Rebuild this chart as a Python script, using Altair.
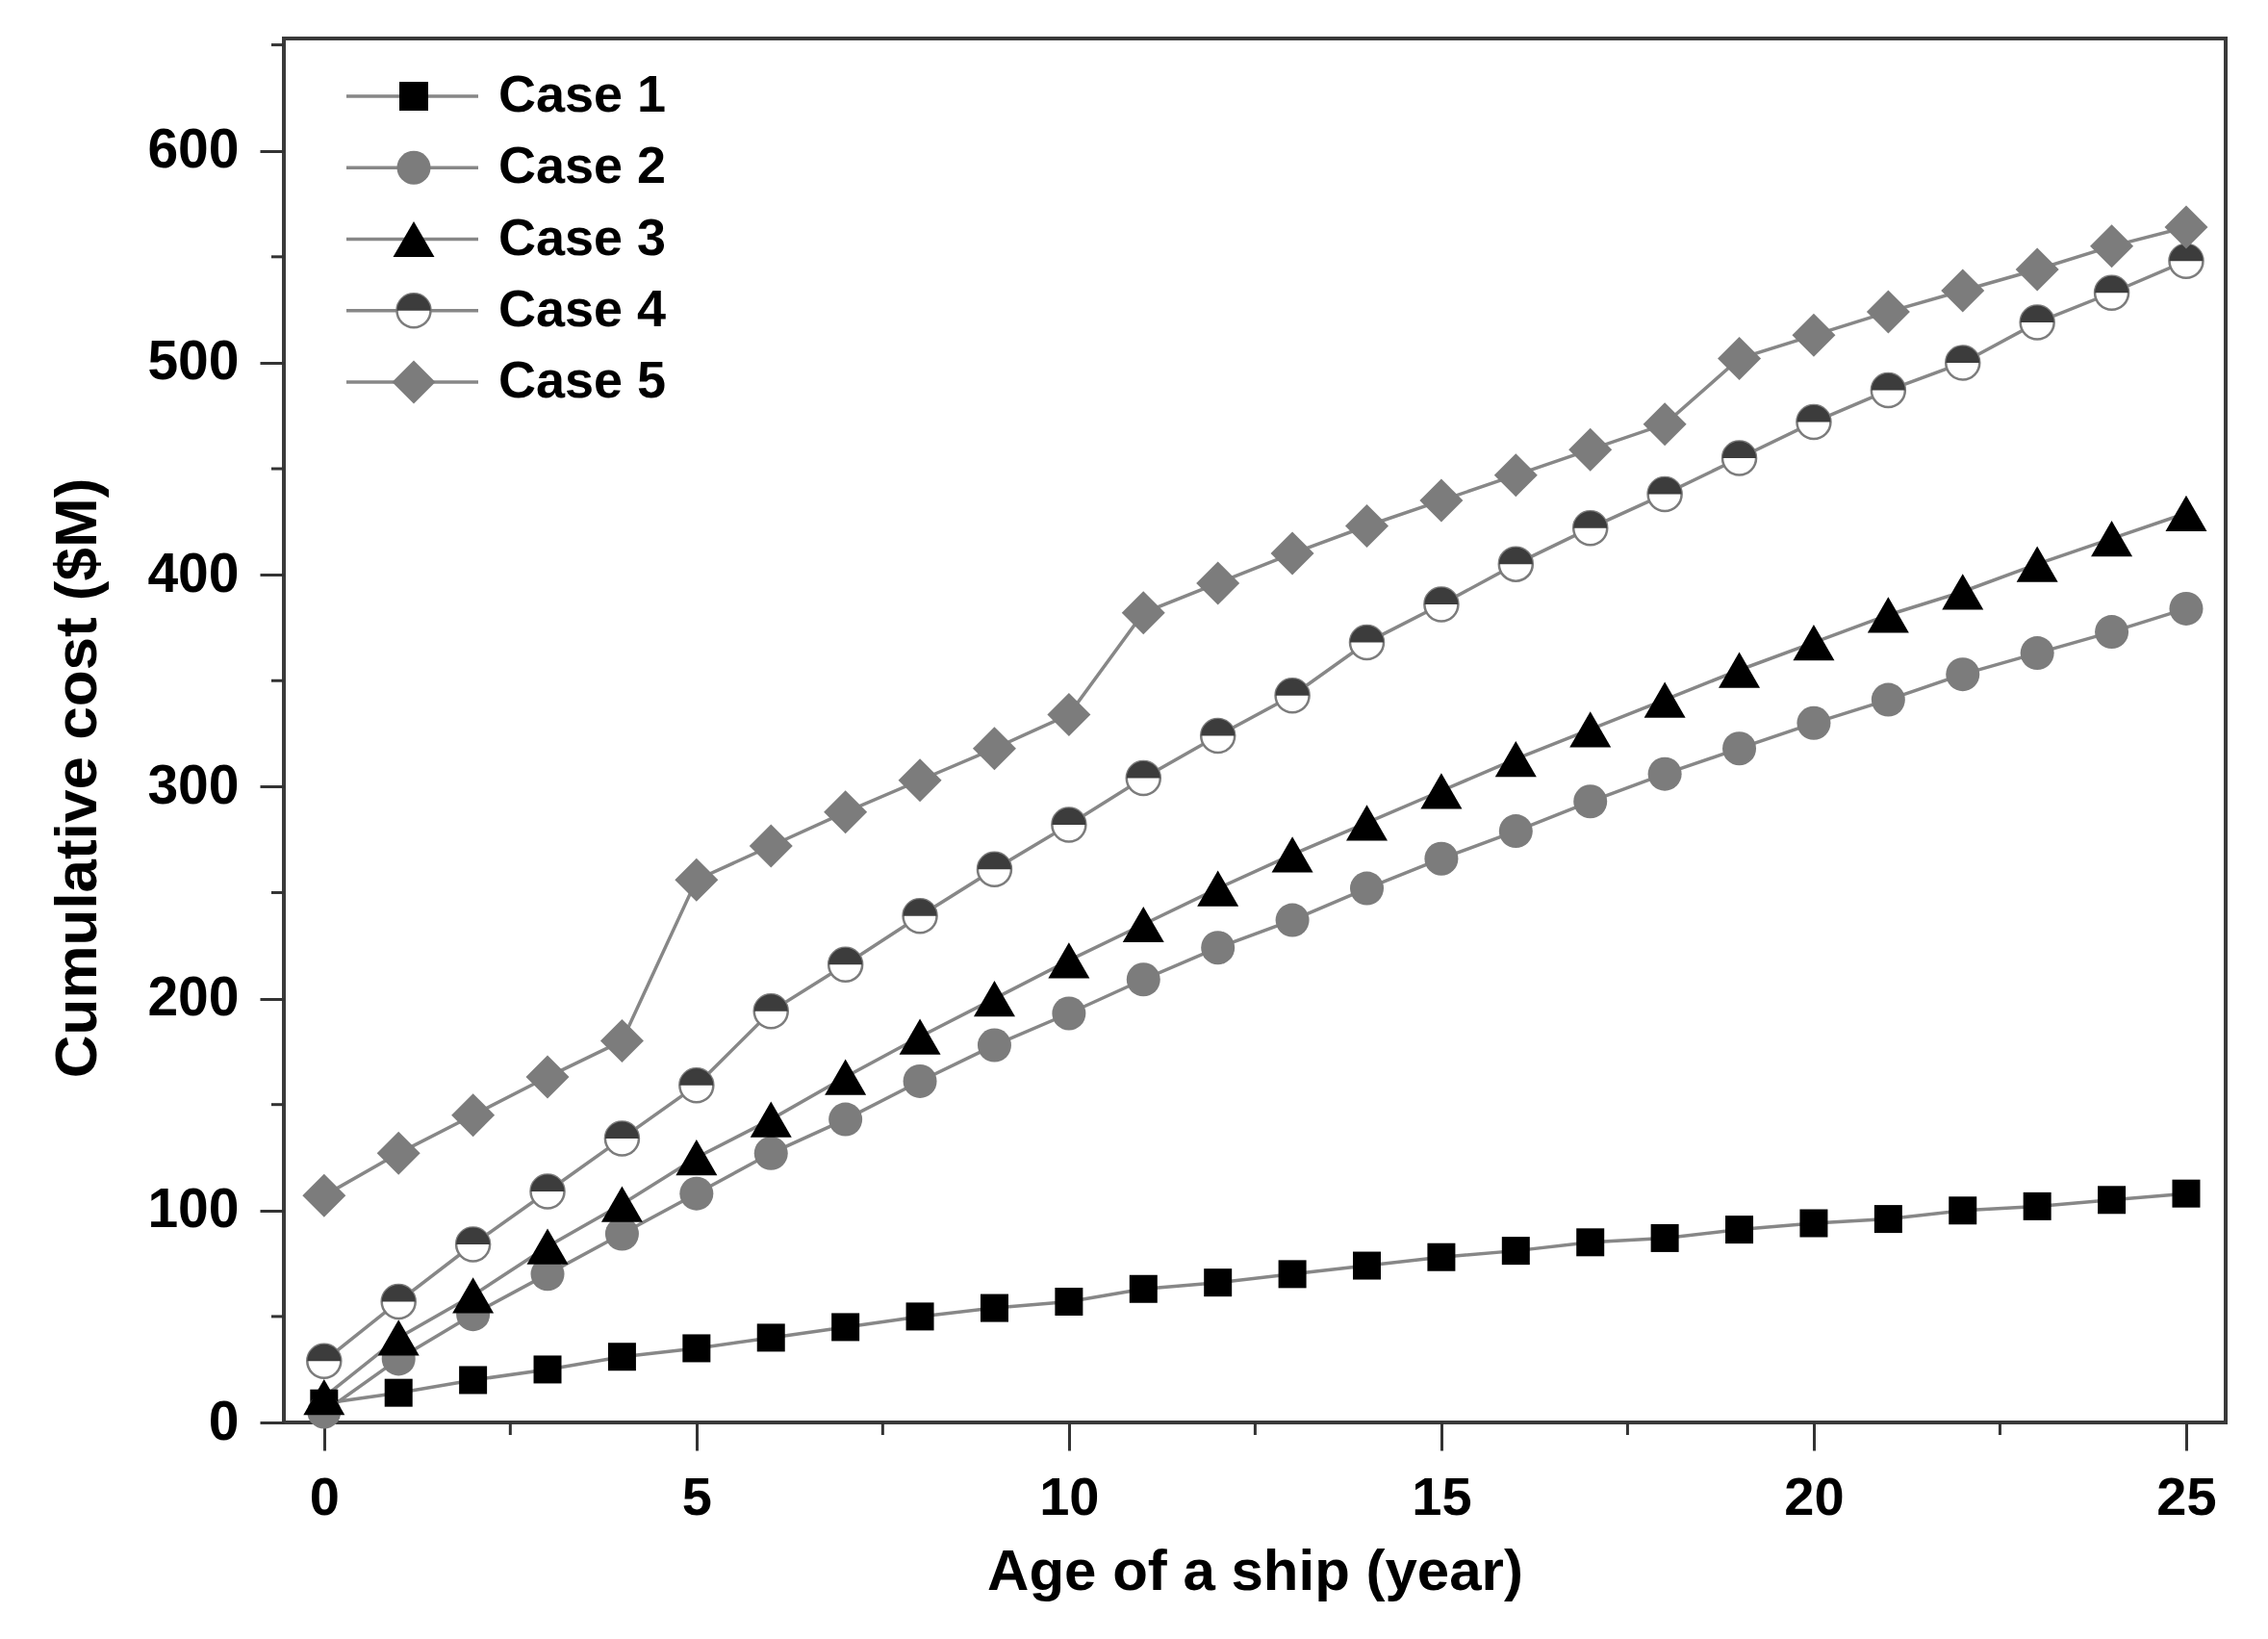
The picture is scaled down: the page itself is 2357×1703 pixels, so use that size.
import altair as alt
import pandas as pd

# ---------------- data ----------------
years = list(range(26))
cases = ["Case 1", "Case 2", "Case 3", "Case 4", "Case 5"]
case1 = [9, 14, 20, 25, 31, 35, 40, 45, 50, 54, 57, 63, 66, 70, 74, 78, 81, 85, 87, 91, 94, 96, 100, 102, 105, 108]
case2 = [5, 30, 51, 70, 89, 108, 127, 143, 161, 178, 193, 209, 224, 237, 252, 266, 279, 293, 306, 318, 330, 341, 353, 363, 373, 384]
case3 = [12, 40, 60, 83, 103, 125, 143, 163, 182, 200, 218, 235, 252, 268, 283, 298, 313, 327, 341, 355, 368, 381, 392, 405, 417, 429]
case4 = [29, 57, 84, 109, 134, 159, 194, 216, 239, 261, 282, 304, 324, 343, 368, 386, 405, 422, 438, 455, 472, 487, 500, 519, 533, 548]
case5 = [107, 127, 145, 163, 180, 256, 272, 288, 303, 318, 334, 382, 396, 410, 423, 435, 447, 459, 471, 502, 513, 524, 534, 544, 555, 564]
x_major = [0, 5, 10, 15, 20, 25]
x_minor = [2.5, 7.5, 12.5, 17.5, 22.5]
y_major = [0, 100, 200, 300, 400, 500, 600]
y_minor = [50, 150, 250, 350, 450, 550, 650]

rows = []
for name, vals in zip(cases, [case1, case2, case3, case4, case5]):
    for yr, v in zip(years, vals):
        rows.append({"case": name, "year": yr, "cost": v})
df = pd.DataFrame(rows)
legend_df = pd.DataFrame({"case": cases, "idx": list(range(len(cases)))})
xminor_df = pd.DataFrame({"year": x_minor})
yminor_df = pd.DataFrame({"cost": y_minor})

# ---------------- style ----------------
W, H = 2018, 1438
FONT = "Liberation Sans"
LINE = "#878787"
GREY = "#7c7c7c"
DARK = "#3c3c3c"
HALF_TOP = "M -1 0 A 1 1 0 0 1 1 0 Z"

xs = alt.Scale(domain=[-0.54, 25.53], nice=False, zero=False)
ys = alt.Scale(domain=[0, 653], nice=False, zero=False)

x_axis = alt.Axis(values=x_major, format="d", title="Age of a ship (year)",
                  tickSize=29, tickWidth=3, tickColor="#333333", domain=False, grid=False,
                  labelFont=FONT, labelFontSize=56, labelFontWeight="bold", labelColor="black",
                  labelPadding=22, titleFont=FONT, titleFontSize=60, titleFontWeight="bold",
                  titleColor="black", titlePadding=20)
y_axis = alt.Axis(values=y_major, format="d", title="Cumulative cost ($M)",
                  tickSize=25, tickWidth=3, tickColor="#333333", domain=False, grid=False,
                  labelFont=FONT, labelFontSize=57, labelFontWeight="bold", labelColor="black",
                  labelPadding=22, titleFont=FONT, titleFontSize=62, titleFontWeight="bold",
                  titleColor="black", titlePadding=40, titleY=768)

X = alt.X("year:Q", scale=xs, axis=x_axis)
Y = alt.Y("cost:Q", scale=ys, axis=y_axis)

base = alt.Chart(df)


def only(name):
    return base.transform_filter(alt.datum.case == name)


lines = base.mark_line(color=LINE, strokeWidth=3.5).encode(x=X, y=Y, detail="case:N")

minor_x = alt.Chart(xminor_df).mark_rule(color="#333333", strokeWidth=3).encode(
    x=X, y=alt.value(H), y2=alt.value(H + 13))
minor_y = alt.Chart(yminor_df).mark_rule(color="#333333", strokeWidth=3).encode(
    y=Y, x=alt.value(-13), x2=alt.value(0))

p1 = only("Case 1").mark_point(shape="square", filled=True, color="black", size=841, opacity=1).encode(x=X, y=Y)
p2 = only("Case 2").mark_point(shape="circle", filled=True, color=GREY, size=1225, opacity=1).encode(x=X, y=Y)
p3 = only("Case 3").mark_point(shape="triangle-up", filled=True, color="black", size=1849, opacity=1).encode(x=X, y=Y)
p4a = only("Case 4").mark_point(shape="circle", filled=True, fill="white", stroke=GREY, strokeWidth=2.5,
                                size=1225, opacity=1).encode(x=X, y=Y)
p4b = only("Case 4").mark_point(shape=HALF_TOP, filled=True, color=DARK, size=1225, opacity=1).encode(x=X, y=Y)
p5 = only("Case 5").mark_point(shape="diamond", filled=True, color=GREY, size=2025, opacity=1).encode(x=X, y=Y)

main = alt.layer(lines, minor_x, minor_y, p1, p2, p3, p4a, p4b, p5)

# ---------------- legend ----------------
LY = alt.Y("idx:Q", scale=alt.Scale(domain=[0, 4], range=[60, 357]), axis=None)
lbase = alt.Chart(legend_df)


def lonly(name):
    return lbase.transform_filter(alt.datum.case == name)


SX = alt.value(135)
l_rule = lbase.mark_rule(color=LINE, strokeWidth=3.5).encode(x=alt.value(65), x2=alt.value(202), y=LY)
l1 = lonly("Case 1").mark_point(shape="square", filled=True, color="black", size=900, opacity=1).encode(x=SX, y=LY)
l2 = lonly("Case 2").mark_point(shape="circle", filled=True, color=GREY, size=1225, opacity=1).encode(x=SX, y=LY)
l3 = lonly("Case 3").mark_point(shape="triangle-up", filled=True, color="black", size=1849, opacity=1).encode(x=SX, y=LY)
l4a = lonly("Case 4").mark_point(shape="circle", filled=True, fill="white", stroke=GREY, strokeWidth=2.5,
                                 size=1225, opacity=1).encode(x=SX, y=LY)
l4b = lonly("Case 4").mark_point(shape=HALF_TOP, filled=True, color=DARK, size=1225, opacity=1).encode(x=SX, y=LY)
l5 = lonly("Case 5").mark_point(shape="diamond", filled=True, color=GREY, size=2025, opacity=1).encode(x=SX, y=LY)
l_text = lbase.mark_text(align="left", baseline="middle", font=FONT, fontSize=54, fontWeight="bold",
                         color="black").encode(x=alt.value(223), y=LY, text="case:N")

legend = alt.layer(l_rule, l1, l2, l3, l4a, l4b, l5, l_text)

chart = alt.layer(main, legend).resolve_scale(y="independent").properties(
    width=W, height=H,
    autosize=alt.AutoSizeParams(type="none"),
    padding={"left": 287, "top": 32, "right": 30, "bottom": 200},
    background="white",
).configure_view(stroke="#3a3a3a", strokeWidth=4)

chart.save("out.html", embed_options={"renderer": "svg", "actions": False})
